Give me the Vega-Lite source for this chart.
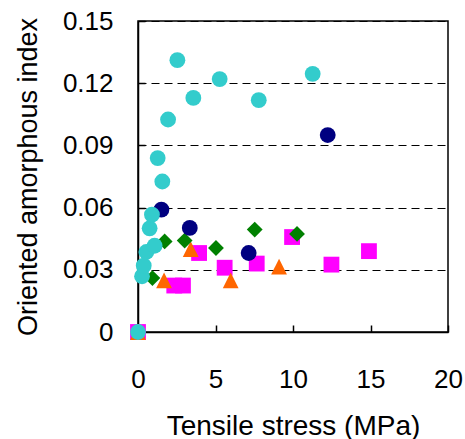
{
  "$schema": "https://vega.github.io/schema/vega-lite/v6.json",
  "width": 310,
  "height": 311,
  "autosize": {"type": "none"},
  "padding": {"left": 138, "top": 21, "right": 17, "bottom": 107},
  "background": "white",
  "config": {
    "font": "Liberation Sans",
    "view": {"stroke": "#000", "strokeWidth": 1.5}
  },
  "data": {
    "values": [
      {"series": "E", "x": 0, "y": 0},
      {"series": "E", "x": 2.34, "y": 0.0224},
      {"series": "E", "x": 2.9, "y": 0.0224},
      {"series": "E", "x": 3.94, "y": 0.0381},
      {"series": "E", "x": 5.59, "y": 0.031},
      {"series": "E", "x": 7.66, "y": 0.033},
      {"series": "E", "x": 9.94, "y": 0.0458},
      {"series": "E", "x": 12.48, "y": 0.0325},
      {"series": "E", "x": 14.9, "y": 0.039},
      {"series": "D", "x": 0, "y": 0},
      {"series": "D", "x": 1.68, "y": 0.0249},
      {"series": "D", "x": 3.4, "y": 0.04},
      {"series": "D", "x": 5.98, "y": 0.0249},
      {"series": "D", "x": 9.1, "y": 0.0315},
      {"series": "C", "x": 0.93, "y": 0.026},
      {"series": "C", "x": 1.72, "y": 0.0437},
      {"series": "C", "x": 3.01, "y": 0.0441},
      {"series": "C", "x": 5.03, "y": 0.0405},
      {"series": "C", "x": 7.53, "y": 0.0494},
      {"series": "C", "x": 10.26, "y": 0.0473},
      {"series": "B", "x": 1.51, "y": 0.059},
      {"series": "B", "x": 3.34, "y": 0.0502},
      {"series": "B", "x": 7.14, "y": 0.0381},
      {"series": "B", "x": 12.24, "y": 0.095},
      {"series": "A", "x": 0, "y": 0},
      {"series": "A", "x": 0.26, "y": 0.0269},
      {"series": "A", "x": 0.37, "y": 0.032},
      {"series": "A", "x": 0.54, "y": 0.0386},
      {"series": "A", "x": 1.07, "y": 0.0416},
      {"series": "A", "x": 0.75, "y": 0.05},
      {"series": "A", "x": 0.9, "y": 0.0566},
      {"series": "A", "x": 1.57, "y": 0.0726},
      {"series": "A", "x": 1.27, "y": 0.0839},
      {"series": "A", "x": 1.94, "y": 0.1025},
      {"series": "A", "x": 2.54, "y": 0.1311},
      {"series": "A", "x": 3.57, "y": 0.1129},
      {"series": "A", "x": 5.27, "y": 0.122},
      {"series": "A", "x": 7.79, "y": 0.1118},
      {"series": "A", "x": 11.27, "y": 0.1245}
    ]
  },
  "mark": {"type": "point", "filled": true, "opacity": 1, "strokeWidth": 0},
  "encoding": {
    "x": {
      "field": "x", "type": "quantitative",
      "scale": {"domain": [0, 20], "nice": false, "zero": false},
      "axis": {
        "values": [0, 5, 10, 15, 20],
        "grid": false,
        "labelFlush": false,
        "title": "Tensile stress (MPa)",
        "titleFont": "Liberation Sans", "titleFontSize": 28, "titleFontWeight": "normal", "titleColor": "#000",
        "titlePadding": 20,
        "labelFont": "Liberation Sans", "labelFontSize": 26, "labelColor": "#000",
        "labelPadding": 41,
        "tickSize": -7, "tickColor": "#000", "tickWidth": 1.5,
        "domainColor": "#000", "domainWidth": 1.5
      }
    },
    "y": {
      "field": "y", "type": "quantitative",
      "scale": {"domain": [0, 0.15], "nice": false, "zero": false},
      "axis": {
        "values": [0, 0.03, 0.06, 0.09, 0.12, 0.15],
        "labelExpr": "datum.value == 0 ? '0' : format(datum.value, '.2f')",
        "labelFlush": false,
        "grid": true, "gridColor": "#000", "gridDash": [8, 5], "gridWidth": 1, "gridOpacity": 1,
        "title": "Oriented amorphous index",
        "titleFont": "Liberation Sans", "titleFontSize": 27, "titleFontWeight": "normal", "titleColor": "#000",
        "titlePadding": 20,
        "labelFont": "Liberation Sans", "labelFontSize": 26, "labelColor": "#000",
        "labelPadding": 32,
        "tickSize": -7, "tickColor": "#000", "tickWidth": 1.5,
        "domainColor": "#000", "domainWidth": 1.5
      }
    },
    "color": {
      "field": "series", "type": "nominal", "legend": null,
      "scale": {"domain": ["A", "B", "C", "D", "E"], "range": ["#33CCCC", "#000080", "#008000", "#FF6600", "#FF00FF"]}
    },
    "shape": {
      "field": "series", "type": "nominal", "legend": null,
      "scale": {"domain": ["A", "B", "C", "D", "E"], "range": ["circle", "circle", "diamond", "M0,-1L-1,1L1,1Z", "square"]}
    },
    "size": {
      "field": "series", "type": "nominal", "legend": null,
      "scale": {"domain": ["A", "B", "C", "D", "E"], "range": [250, 250, 260, 289, 289]}
    }
  }
}
